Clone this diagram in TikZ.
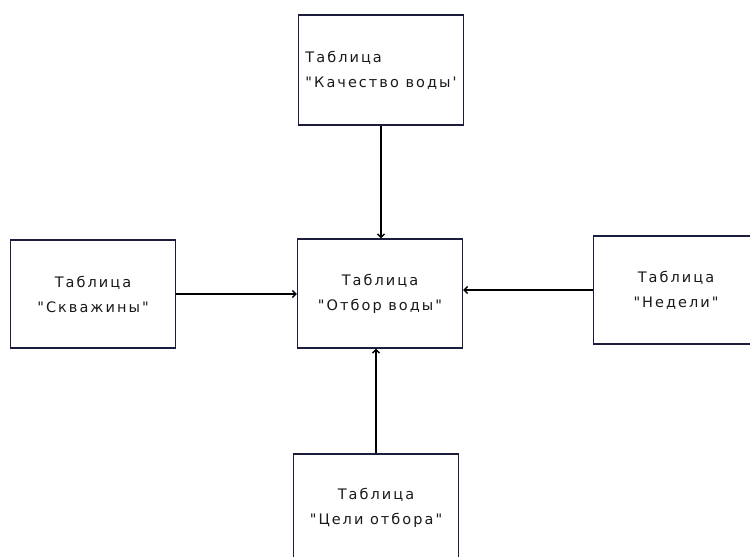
\documentclass[tikz,border=0pt]{standalone}
\usepackage{fontspec}
\setmainfont[LetterSpace=14,Ligatures=TeXOff]{DejaVu Sans}
\usetikzlibrary{arrows.meta}
\definecolor{boxline}{RGB}{28,28,60}
\definecolor{boxtext}{RGB}{25,25,25}
\begin{document}
\begin{tikzpicture}[
        x=1pt, y=-1pt,
        box/.style={
            rectangle,
            draw=boxline,
            line width=1.4pt,
            align=center,
            text=boxtext,
            font=\fontsize{14.5}{25}\selectfont,
            minimum width=165pt,
            minimum height=108pt,
            inner sep=0pt
        },
        >={Straight Barb[length=3.5pt,width=7pt]}
    ]
    \useasboundingbox (0,0) rectangle (750,557);

    % Main boxes
    \node[box, align=left, minimum height=110pt] (quality) at (381,70) {Таблица\\"Качество воды'};
    \node[box] (wells) at (93,294) {Таблица\\"Скважины"};
    \node[box, minimum height=109pt] (sampling) at (380,293.5) {Таблица\\"Отбор воды"};
    \node[box] (weeks) at (676,290) {Таблица\\"Недели"};
    \node[box] (goals) at (376,508) {Таблица\\"Цели отбора"};

    % Connections
    \draw[->, line width=1.4pt] (quality.south) -- (quality.south |- sampling.north);
    \draw[->, line width=1.4pt] (wells.east) -- (wells.east -| sampling.west);
    \draw[->, line width=1.4pt] (weeks.west) -- (weeks.west -| sampling.east);
    \draw[->, line width=1.4pt] (goals.north) -- (goals.north |- sampling.south);

\end{tikzpicture}
\end{document}
